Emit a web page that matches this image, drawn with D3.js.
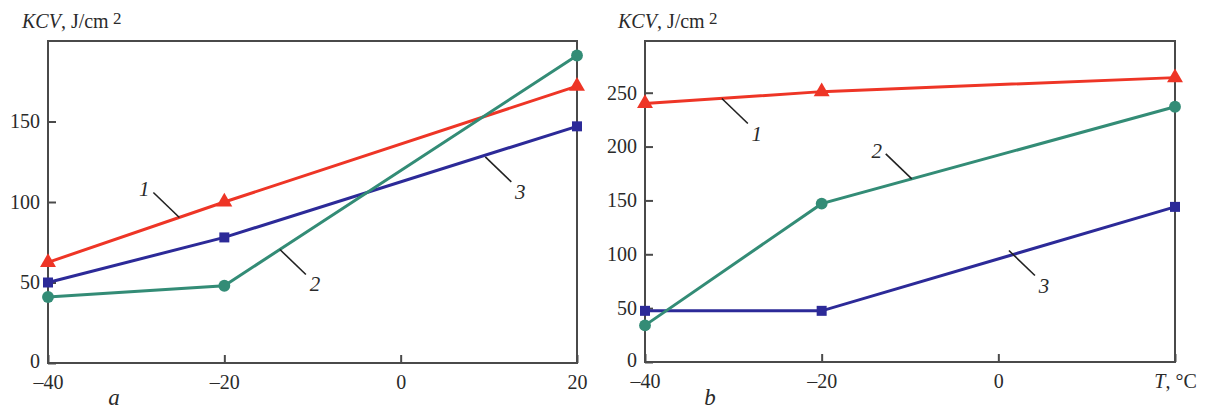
<!DOCTYPE html>
<html>
<head>
<meta charset="utf-8">
<script src="https://cdn.jsdelivr.net/npm/d3@7"></script>
<style>
  body { margin: 0; background: #fff; }
  svg text { font-family: "Liberation Serif", "DejaVu Serif", serif; fill: #2a2a2a; }
</style>
</head>
<body>
<div id="chart"></div>
<script>
// temperatures, deg C
const temps = [-40, -20, 20];
const xTicks = [-40, -20, 0, 20];

// panel a
const a1 = [62.5, 100, 172];
const a2 = [41, 48, 191];
const a3 = [50, 78, 147];
const aYTicks = [0, 50, 100, 150];

// panel b
const b1 = [240, 251, 264];
const b2 = [34, 147, 237];
const b3 = [47.5, 47.5, 144];
const bYTicks = [0, 50, 100, 150, 200, 250];

// curve numbers: where the leader touches the line (data coords)
const aNotes = [
  { label: "1", x: -25.1, y: 90.4, dir: [-1, -1] },
  { label: "2", x: -13.7, y: 70.5, dir: [1, 1] },
  { label: "3", x: 9.6, y: 128, dir: [1, 1] }
];
const bNotes = [
  { label: "1", x: -31.3, y: 244.6, dir: [1, 1] },
  { label: "2", x: -9.8, y: 170, dir: [-1, -1] },
  { label: "3", x: 1.2, y: 103.5, dir: [1, 1] }
];

const colors = { s1: "#ee3526", s2: "#338c76", s3: "#2c2a98" };

const svg = d3.select("#chart").append("svg")
  .attr("width", 1205)
  .attr("height", 414);

function panel(opt) {
  const x = d3.scaleLinear().domain([-40, 20]).range([opt.left, opt.right]);
  const y = d3.scaleLinear().domain([0, opt.yMax]).range([opt.bottom, 41]);
  const g = svg.append("g");

  // frame
  g.append("rect")
    .attr("x", opt.left).attr("y", 41)
    .attr("width", opt.right - opt.left).attr("height", opt.bottom - 41)
    .attr("fill", "none").attr("stroke", "#4a4a4a").attr("stroke-width", 2);

  const yAxis = g.append("g")
    .attr("transform", "translate(" + opt.left + ",0)")
    .call(d3.axisLeft(y).tickValues(opt.yTicks).tickSize(-8).tickSizeOuter(0).tickPadding(8));
  const xAxis = g.append("g")
    .attr("transform", "translate(0," + opt.bottom + ")")
    .call(d3.axisBottom(x).tickValues(xTicks).tickSize(-8).tickSizeOuter(0).tickPadding(12)
      .tickFormat(d => d == 20 && opt.unit ? opt.unit : (d < 0 ? "–" + Math.abs(d) : d)));
  [yAxis, xAxis].forEach(ax => {
    ax.select(".domain").remove();
    ax.selectAll("line").attr("stroke", "#4a4a4a").attr("stroke-width", 2);
    ax.selectAll("text").attr("font-size", 20).attr("fill", "#2a2a2a")
      .style("font-family", "'Liberation Serif', serif");
  });
  // keep the corner "0" clear of the first x label
  yAxis.selectAll(".tick").filter(d => d == 0).select("text").attr("dy", "0.2em");
  if (opt.unit) {
    xAxis.selectAll(".tick").filter(d => d == 20).select("text")
      .html("<tspan font-style='italic'>T</tspan>, °C");
  }

  const line = d3.line().x((d, i) => x(temps[i])).y(d => y(d));
  const series = [
    { v: opt.s1, c: colors.s1, m: d3.symbolTriangle, size: 110 },
    { v: opt.s3, c: colors.s3, m: d3.symbolSquare, size: 100 },
    { v: opt.s2, c: colors.s2, m: d3.symbolCircle, size: 110 }
  ];
  series.forEach(s => {
    g.append("path").datum(s.v)
      .attr("d", line)
      .attr("fill", "none").attr("stroke", s.c).attr("stroke-width", 3);
    g.selectAll(null).data(s.v).join("path")
      .attr("transform", (d, i) => "translate(" + x(temps[i]) + "," + y(d) + ")")
      .attr("d", d3.symbol(s.m, s.size))
      .attr("fill", s.c);
  });

  // leaders and curve numbers
  opt.notes.forEach(n => {
    const px = x(n.x), py = y(n.y);
    const ex = px + 26 * n.dir[0], ey = py + 25 * n.dir[1];
    g.append("line")
      .attr("x1", px).attr("y1", py).attr("x2", ex).attr("y2", ey)
      .attr("stroke", "#222").attr("stroke-width", 1.6);
    g.append("text")
      .attr("x", ex + 9 * n.dir[0]).attr("y", ey + (n.dir[1] > 0 ? 17 : 4))
      .attr("text-anchor", "middle")
      .attr("font-size", 21).attr("font-style", "italic")
      .text(n.label);
  });

  // y title
  const t = svg.append("text")
    .attr("x", opt.titleX).attr("y", 28)
    .attr("font-size", 20);
  t.append("tspan").attr("font-style", "italic").text("KCV");
  t.append("tspan").text(", J/cm");
  t.append("tspan").attr("dy", -4).attr("font-size", 17).text(" 2");

  svg.append("text")
    .attr("x", opt.letterX).attr("y", 405)
    .attr("font-size", 23).attr("font-style", "italic")
    .attr("text-anchor", "middle")
    .text(opt.letter);
}

panel({ left: 48, right: 577, bottom: 363, yMax: 200, yTicks: aYTicks,
  s1: a1, s2: a2, s3: a3, notes: aNotes, titleX: 22, letter: "a", letterX: 114 });
panel({ left: 645, right: 1175, bottom: 362, yMax: 298, yTicks: bYTicks,
  s1: b1, s2: b2, s3: b3, notes: bNotes, titleX: 618, letter: "b", letterX: 710,
  unit: "T, °C" });
</script>
</body>
</html>
